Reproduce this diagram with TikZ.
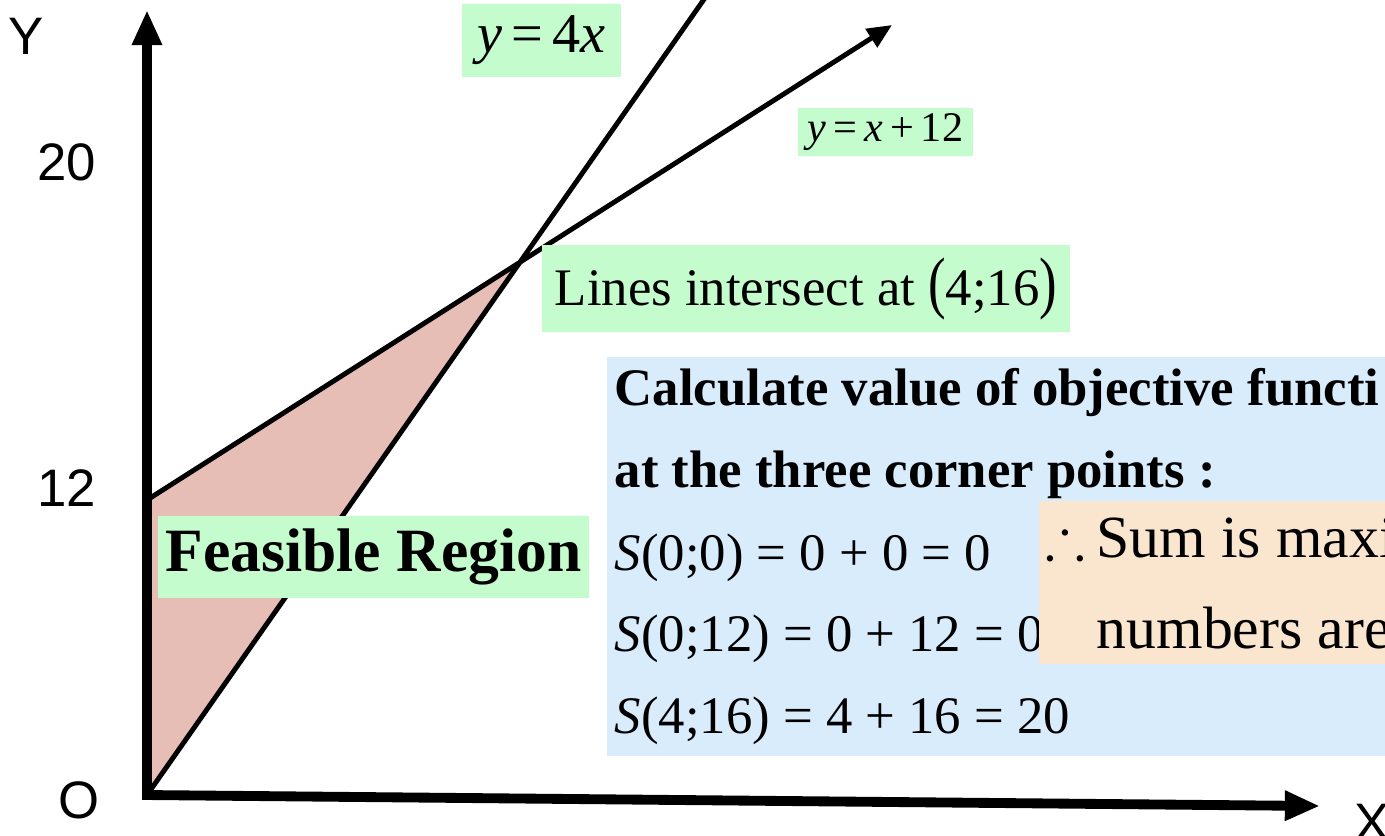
\documentclass[tikz,border=0pt]{standalone}
\usepackage{fontspec}
\usepackage{amssymb}
\usepackage{graphicx}
\setmainfont{Liberation Serif}
\newfontfamily\axisfont{Liberation Sans}
\usetikzlibrary{arrows.meta}

\definecolor{labelgreen}{RGB}{197,252,205}
\definecolor{calcblue}{RGB}{217,236,252}
\definecolor{noteorange}{RGB}{250,230,207}
\definecolor{regionred}{RGB}{230,190,181}

\newcommand{\fsz}[1]{\fontsize{#1}{#1}\selectfont}
\newcommand{\tallparen}[1]{\scalebox{1}[1.3]{#1}}

\begin{document}
\begin{tikzpicture}[
    x=0.01cm, y=-0.01cm,
    axis/.style={line width=2.8pt, line join=miter,
                 {Triangle[length=10pt,width=8pt]}-{Triangle[length=10pt,width=8pt]}},
    constraint/.style={line width=1.4pt},
    tag/.style={fill=labelgreen, inner sep=0pt},
    panel/.style={fill=calcblue, inner sep=0pt, anchor=north west},
    note/.style={fill=noteorange, inner sep=0pt, anchor=north west},
    tick/.style={font=\axisfont\fsz{15}, inner sep=0pt},
    calc/.style={anchor=base west, inner sep=0pt, font=\bfseries\fsz{15}},
    sumline/.style={anchor=base west, inner sep=0pt, font=\fsz{15}},
    noteline/.style={anchor=base west, inner sep=0pt, font=\fsz{17}},
]
  \useasboundingbox (0,0) rectangle (1385,835);
  \clip (0,0) rectangle (1385,835);

  % Corner points
  \coordinate (O) at (147,795);
  \coordinate (P12) at (147,500);
  \coordinate (I) at (520,262);
  \coordinate (ytip) at (147,10);
  \coordinate (xtip) at (1320,806);
  \coordinate (tipB) at (892,25);
  \coordinate (topA) at (707,-5);

  % Feasible region
  \fill[regionred] (P12) -- (I) -- (O) -- cycle;

  % Constraint lines
  \draw[constraint] (O) -- (topA);
  \draw[constraint, -{Triangle[length=7pt,width=6pt]}] (P12) -- (tipB);

  % Axes
  \draw[axis] (ytip) -- (O) -- (xtip);
  \node[tick] (ylab) at (26,36) {Y};
  \node[tick] (tick20) at (67,162) {20};
  \node[tick] (tick12) at (67,488) {12};
  \node[tick] (olab) at (79,800) {O};
  \node[tick] (xlab) at (1372,822) {X};

  % Green labels
  \node[tag, minimum width=1.59cm, minimum height=0.73cm, font=\fsz{16}]
    (eqA) at (541.5,40.5) {\emph{y}\,=\,4\emph{x}};
  \node[tag, minimum width=1.75cm, minimum height=0.48cm, font=\fsz{12}]
    (eqB) at (885.5,132) {\emph{y}\,=\,\emph{x}\,+\,12};
  \node[tag, minimum width=5.28cm, minimum height=0.87cm, font=\fsz{15}]
    (cross) at (806,288.5) {Lines intersect at \tallparen{(}4;16\tallparen{)}};
  \node[tag, minimum width=4.31cm, minimum height=0.82cm, font=\bfseries\fsz{17.5}]
    (region) at (373.5,557) {Feasible Region};

  % Calculation panel
  \node[panel, minimum width=7.9cm, minimum height=3.99cm] (calcbox) at (606,356) {};
  \node[calc] (calc1) at (614,405) {Calculate value of objective functi};
  \node[calc] (calc2) at (614,487) {at the three corner points :};
  \node[sumline] (s1) at (614,570) {\emph{S}(0;0) = 0 + 0 = 0};
  \node[sumline] (s2) at (614,651) {\emph{S}(0;12) = 0 + 12 = 0};
  \node[sumline] (s3) at (614,733) {\emph{S}(4;16) = 4 + 16 = 20};

  % Conclusion
  \node[note, minimum width=3.6cm, minimum height=1.63cm] (notebox) at (1038,500) {};
  \node[noteline] (thus) at (1045,557) {$\therefore$};
  \node[noteline] (note1) at (1096,557) {Sum is maxi};
  \node[noteline] (note2) at (1096,648) {numbers are};

\end{tikzpicture}
\end{document}
